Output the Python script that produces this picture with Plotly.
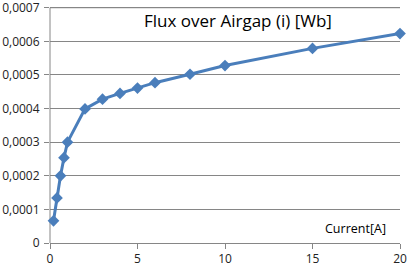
import plotly.graph_objects as go

current = [0.2, 0.4, 0.6, 0.8, 1, 2, 3, 4, 5, 6, 8, 10, 15, 20]
flux = [0.000066, 0.000134, 0.000200, 0.000254, 0.000300, 0.000399, 0.000428,
        0.000445, 0.000461, 0.000477, 0.000502, 0.000528, 0.000579, 0.000623]

y_max = 0.0007
y_step = 0.0001
x_ticks = [0, 5, 10, 15, 20]
x_labels = ["0", "5", "10", "15", "20"]

color = "#4A7EBB"
axis_color = "#868686"
fig = go.Figure()
fig.add_trace(go.Scatter(
    x=current, y=flux, mode="lines+markers",
    line=dict(color=color, width=3),
    marker=dict(symbol="diamond", size=9, color=color),
    showlegend=False, cliponaxis=False,
))

fig.update_layout(
    width=408, height=267,
    separators=",.",
    margin=dict(l=50, r=8, t=1, b=24, autoexpand=False),
    paper_bgcolor="white", plot_bgcolor="white",
    font=dict(family="Open Sans, Noto Sans, sans-serif", color="#222", size=12),
    annotations=[
        dict(text="Flux over Airgap (i) [Wb]", x=0.537, y=0.92, xref="paper", yref="paper",
             xanchor="center", yanchor="middle", showarrow=False,
             font=dict(size=17, color="black")),
        dict(text="Current[A]", x=0.966, y=0.06, xref="paper", yref="paper",
             xanchor="right", yanchor="middle", showarrow=False,
             font=dict(size=12.5, color="black")),
    ],
    shapes=[
        dict(type="line", xref="paper", yref="y", x0=0, x1=0, y0=0, y1=y_max,
             line=dict(color=axis_color, width=1), layer="below"),
        dict(type="line", xref="paper", yref="y", x0=0, x1=1, y0=y_max, y1=y_max,
             line=dict(color=axis_color, width=1), layer="below"),
    ],
)
fig.update_xaxes(
    range=[0, 20], tickvals=x_ticks, ticktext=x_labels, automargin=False,
    showgrid=False, zeroline=False, showline=True, linecolor=axis_color, linewidth=1,
    ticks="outside", ticklen=5, tickcolor=axis_color,
)
fig.update_yaxes(
    range=[0, 0.00072], tickmode="linear", tick0=0, dtick=y_step,
    tickformat=".4~f", exponentformat="none", automargin=False,
    ticklabeloverflow="allow",
    showgrid=True, gridcolor=axis_color, gridwidth=1, zeroline=False,
    showline=False,
    ticks="outside", ticklen=5, tickcolor=axis_color, ticklabelstandoff=2,
)

fig.write_html("out.html")
